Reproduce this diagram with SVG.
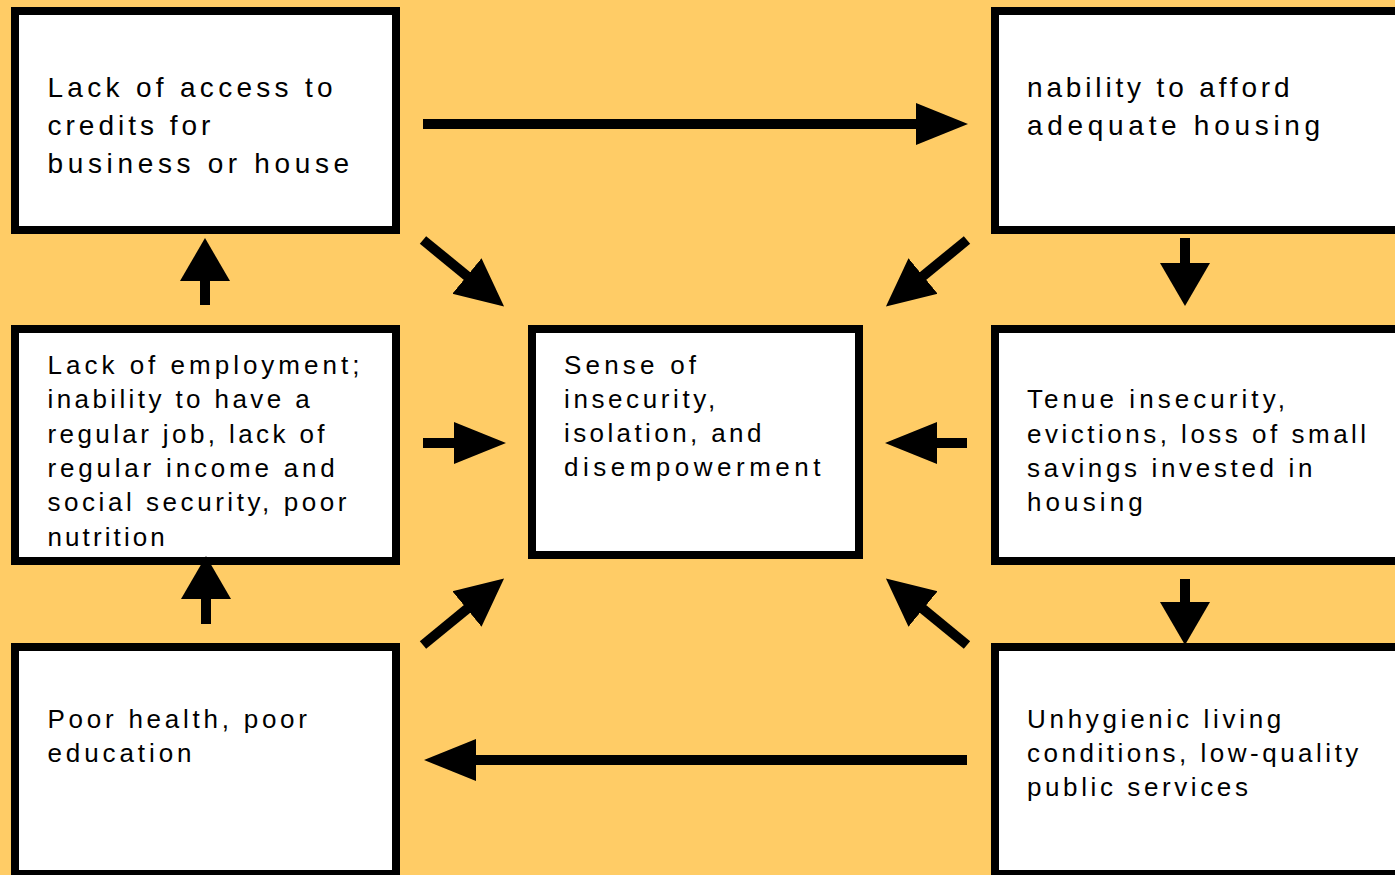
<svg xmlns="http://www.w3.org/2000/svg" width="1395" height="875" viewBox="0 0 1395 875">
  <style>
    .box { fill: #ffffff; stroke: #000000; stroke-width: 8; }
    .lbl { font-family: "Liberation Sans", Arial, sans-serif; font-size: 26px; letter-spacing: 3.8px; fill: #000000; }
    .lbl.big { font-size: 28px; letter-spacing: 4.5px; }
    .arr { stroke: #000000; stroke-width: 10; fill: none; stroke-linecap: butt; }
    .ah { marker-end: url(#ah); }
    .ad { marker-end: url(#ad); }
    .av { marker-end: url(#av); }
  </style>
  <defs>
    <marker id="ah" viewBox="-2 -30 60 60" markerWidth="60" markerHeight="60" refX="-1" refY="0" markerUnits="userSpaceOnUse" orient="auto">
      <path d="M-2,-21 L50,0 L-2,21 Z" fill="#000000"/>
    </marker>
    <marker id="ad" viewBox="-2 -30 60 60" markerWidth="60" markerHeight="60" refX="-1" refY="0" markerUnits="userSpaceOnUse" orient="auto">
      <path d="M-2,-23 L46,0 L-2,23 Z" fill="#000000"/>
    </marker>
    <marker id="av" viewBox="-2 -30 60 60" markerWidth="60" markerHeight="60" refX="-1" refY="0" markerUnits="userSpaceOnUse" orient="auto">
      <path d="M-2,-25 L41,0 L-2,25 Z" fill="#000000"/>
    </marker>
  </defs>
  <rect x="0" y="0" width="1395" height="875" fill="#ffcc66"/>

  <g id="node-credits">
    <rect class="box" x="15" y="11" width="381" height="219"/>
    <text class="lbl big" x="47.5" y="97"><tspan x="47.5" y="97" style="letter-spacing:4.3px">Lack of access to</tspan><tspan x="47.5" y="135" style="letter-spacing:4.0px">credits for</tspan><tspan x="47.5" y="173" style="letter-spacing:4.65px">business or house</tspan></text>
  </g>

  <g id="node-housing">
    <rect class="box" x="995" y="11" width="420" height="219"/>
    <text class="lbl big" x="1027" y="97"><tspan x="1027" y="97" style="letter-spacing:3.85px">nability to afford</tspan><tspan x="1027" y="135" style="letter-spacing:4.7px">adequate housing</tspan></text>
  </g>

  <g id="node-employment">
    <rect class="box" x="15" y="329" width="381" height="232"/>
    <text class="lbl" x="47.5" y="374"><tspan x="47.5" y="374" style="letter-spacing:4.0px">Lack of employment;</tspan><tspan x="47.5" y="408.3" style="letter-spacing:3.4px">inability to have a</tspan><tspan x="47.5" y="442.6" style="letter-spacing:3.4px">regular job, lack of</tspan><tspan x="47.5" y="476.9">regular income and</tspan><tspan x="47.5" y="511.2" style="letter-spacing:3.55px">social security, poor</tspan><tspan x="47.5" y="545.5" style="letter-spacing:3.1px">nutrition</tspan></text>
  </g>

  <g id="node-sense">
    <rect class="box" x="532" y="329" width="327" height="226"/>
    <text class="lbl" x="564" y="373.5"><tspan x="564" y="373.5" style="letter-spacing:4.2px">Sense of</tspan><tspan x="564" y="407.8" style="letter-spacing:3.6px">insecurity,</tspan><tspan x="564" y="442.1" style="letter-spacing:3.4px">isolation, and</tspan><tspan x="564" y="476.4" style="letter-spacing:4.5px">disempowerment</tspan></text>
  </g>

  <g id="node-tenure">
    <rect class="box" x="995" y="329" width="420" height="232"/>
    <text class="lbl" x="1027" y="408.3"><tspan x="1027" y="408.3" style="letter-spacing:4.05px">Tenue insecurity,</tspan><tspan x="1027" y="442.6" style="letter-spacing:3.5px">evictions, loss of small</tspan><tspan x="1027" y="476.9" style="letter-spacing:3.65px">savings invested in</tspan><tspan x="1027" y="511.2" style="letter-spacing:4.1px">housing</tspan></text>
  </g>

  <g id="node-health">
    <rect class="box" x="15" y="647" width="381" height="227"/>
    <text class="lbl" x="47.5" y="727.5"><tspan x="47.5" y="727.5" style="letter-spacing:3.75px">Poor health, poor</tspan><tspan x="47.5" y="761.8" style="letter-spacing:3.9px">education</tspan></text>
  </g>

  <g id="node-unhygienic">
    <rect class="box" x="995" y="647" width="420" height="227"/>
    <text class="lbl" x="1027" y="727.5"><tspan x="1027" y="727.5" style="letter-spacing:3.7px">Unhygienic living</tspan><tspan x="1027" y="761.8" style="letter-spacing:3.5px">conditions, low-quality</tspan><tspan x="1027" y="796.1" style="letter-spacing:3.6px">public services</tspan></text>
  </g>

  <g id="connectors">
    <line class="arr ah" x1="423" y1="124" x2="917" y2="124"/>
    <line class="arr ah" x1="967" y1="760" x2="475" y2="760"/>
    <line class="arr ah" x1="423" y1="443" x2="455" y2="443"/>
    <line class="arr ah" x1="967" y1="443" x2="936" y2="443"/>
    <line class="arr av" x1="1185" y1="238" x2="1185" y2="264"/>
    <line class="arr av" x1="1185" y1="579" x2="1185" y2="603"/>
    <line class="arr av" x1="205" y1="305" x2="205" y2="280"/>
    <line class="arr av" x1="206" y1="624" x2="206" y2="598"/>
    <line class="arr ad" x1="423" y1="240" x2="467.7" y2="276.6"/>
    <line class="arr ad" x1="967" y1="240" x2="922.3" y2="276.6"/>
    <line class="arr ad" x1="423" y1="645" x2="467.7" y2="608.4"/>
    <line class="arr ad" x1="967" y1="645" x2="922.3" y2="608.4"/>
  </g>
</svg>
